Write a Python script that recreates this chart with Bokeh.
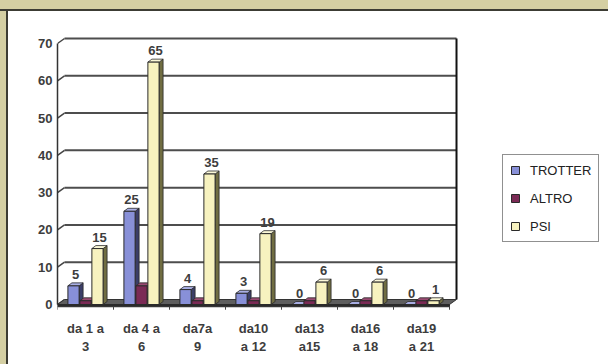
import numpy as np
from bokeh.plotting import figure
from bokeh.models import (Range1d, FixedTicker, Legend, LegendItem, Spacer,
                          ColumnDataSource)
from bokeh.layouts import column, row
from bokeh.core.properties import value
from bokeh.embed import file_html
from bokeh.resources import INLINE

# ---- data -------------------------------------------------------------
categories = ["da 1 a\n3", "da 4 a\n6", "da7a\n9", "da10\na 12",
              "da13\na15", "da16\na 18", "da19\na 21"]
series_names = ["TROTTER", "ALTRO", "PSI"]
trotter = [5, 25, 4, 3, 0, 0, 0]
altro = [1, 5, 1, 1, 1, 1, 1]
psi = [15, 65, 35, 19, 6, 6, 1]
y_ticks = [0, 10, 20, 30, 40, 50, 60, 70]

# ---- styling ----------------------------------------------------------
FONT = "Liberation Sans"
TXT = "#3d3d3d"
BEIGE = "#d4cfa3"
front_colors = ["#8890d8", "#7b2a55", "#f7f2bf"]
side_colors = ["#3b3e68", "#3a1428", "#706d42"]
top_colors = ["#a9afe4", "#9a4a72", "#fbf8d8"]

n = len(categories)
groups = np.arange(n, dtype=float)
offsets = [-0.214, 0.0, 0.214]
BW = 0.2           # bar width (category units)
DX, DY = 0.125, 1.341    # depth of the back wall
BDX, BDY = 0.0714, 0.8   # depth of each bar
X0, X1 = -0.5, n - 0.5   # front edge of the floor

p = figure(width=600, height=353, output_backend="svg", toolbar_location=None,
           x_range=Range1d(-0.5, 9.339), y_range=Range1d(-1.609, 72.68),
           min_border_left=49, min_border_right=0, min_border_top=22,
           min_border_bottom=54)
p.outline_line_color = None
p.background_fill_color = "white"
p.border_fill_color = "white"
p.grid.visible = False

# y axis
p.yaxis.ticker = FixedTicker(ticks=y_ticks)
p.yaxis.bounds = (0, 70)
p.yaxis.axis_line_color = "#333333"
p.yaxis.axis_line_width = 1.5
p.yaxis.major_tick_in = 0
p.yaxis.major_tick_out = 0
p.yaxis.minor_tick_line_color = None
p.yaxis.major_label_standoff = 5
p.yaxis.major_label_text_font = FONT
p.yaxis.major_label_text_font_size = "13px"
p.yaxis.major_label_text_font_style = "bold"
p.yaxis.major_label_text_color = TXT

# x axis with two-line category labels
p.xaxis.ticker = FixedTicker(ticks=list(groups))
p.xaxis.major_label_overrides = {float(i): c for i, c in enumerate(categories)}
p.xaxis.axis_line_color = None
p.xaxis.major_tick_line_color = None
p.xaxis.minor_tick_line_color = None
p.xaxis.major_label_standoff = 4
p.xaxis.major_label_text_font = FONT
p.xaxis.major_label_text_font_size = "13px"
p.xaxis.major_label_text_font_style = "bold"
p.xaxis.major_label_text_color = TXT

# back wall gridlines with their slanted hooks to the axis
gv = np.array(y_ticks[1:], dtype=float)
p.segment(x0=X0, y0=gv, x1=X0 + DX, y1=gv + DY, line_color="#444444", line_width=1.5)
p.segment(x0=X0 + DX, y0=gv + DY, x1=X1 + DX, y1=gv + DY,
          line_color="#4d4d4d", line_width=2)
p.segment(x0=[X0], y0=[0], x1=[X0 + DX], y1=[DY], line_color="#444444", line_width=1.5)
# right edge of the wall
p.segment(x0=[X1 + DX], y0=[DY], x1=[X1 + DX], y1=[y_ticks[-1] + DY],
          line_color="#111111", line_width=2)

# floor
p.patch(x=[X0, X1, X1 + DX, X0 + DX], y=[0, 0, DY, DY],
        fill_color="#5e5e5e", line_color="#333333", line_width=1)
p.patch(x=[X0, X1, X1, X0], y=[0, 0, -0.6, -0.6],
        fill_color="#2a2a2a", line_color="#2a2a2a", line_width=1)
bx = np.arange(n + 1) - 0.5
p.segment(x0=bx, y0=-0.6, x1=bx, y1=-1.4, line_color="#444444", line_width=1)

# 3d bars
renderers = []
for k, vals in enumerate([trotter, altro, psi]):
    v = np.array(vals, dtype=float)
    xc = groups + offsets[k]
    xl, xr = xc - BW / 2, xc + BW / 2
    side_xs = [[a, a + BDX, a + BDX, a] for a in xr]
    side_ys = [[0, BDY, h + BDY, h] for h in v]
    top_xs = [[a, a + BDX, b + BDX, b] for a, b in zip(xl, xr)]
    top_ys = [[h, h + BDY, h + BDY, h] for h in v]
    p.patches(xs=side_xs, ys=side_ys, fill_color=side_colors[k],
              line_color="#2a2a2a", line_width=0.8)
    p.patches(xs=top_xs, ys=top_ys, fill_color=top_colors[k],
              line_color="#2a2a2a", line_width=0.8)
    r = p.vbar(x=xc, top=v, bottom=0, width=BW, fill_color=front_colors[k],
               line_color="#2a2a2a", line_width=1)
    renderers.append(r)

# value labels on TROTTER and PSI
for k, vals in [(0, trotter), (2, psi)]:
    src = ColumnDataSource(dict(x=groups + offsets[k] + BDX / 2,
                                y=np.array(vals, dtype=float) + BDY,
                                t=[str(v) for v in vals]))
    p.text(x="x", y="y", text="t", source=src, text_align="center",
           text_baseline="bottom", y_offset=-4, text_font=value(FONT),
           text_font_size="13px", text_font_style="bold", text_color=TXT)

legend = Legend(items=[LegendItem(label=s, renderers=[r])
                       for s, r in zip(series_names, renderers)],
                location=(445, 68), margin=0, padding=7, spacing=12,
                label_height=16, glyph_width=10, glyph_height=10,
                label_standoff=10, label_text_font=FONT,
                label_text_font_size="13px", label_text_color="#222222",
                border_line_color="#222222", border_line_width=1,
                background_fill_color="white", background_fill_alpha=1)
p.add_layout(legend, "center")

top_band = Spacer(width=608, height=11, styles={
    "background": f"linear-gradient(to top, #3c3c34 0px, #3c3c34 2px, {BEIGE} 2px)"})
left_band = Spacer(width=8, height=353, styles={
    "background": f"linear-gradient(to left, #3c3c34 0px, #3c3c34 2px, {BEIGE} 2px)"})
page = column(top_band, row(left_band, p))

open("out.html", "w").write(file_html(page, INLINE))
